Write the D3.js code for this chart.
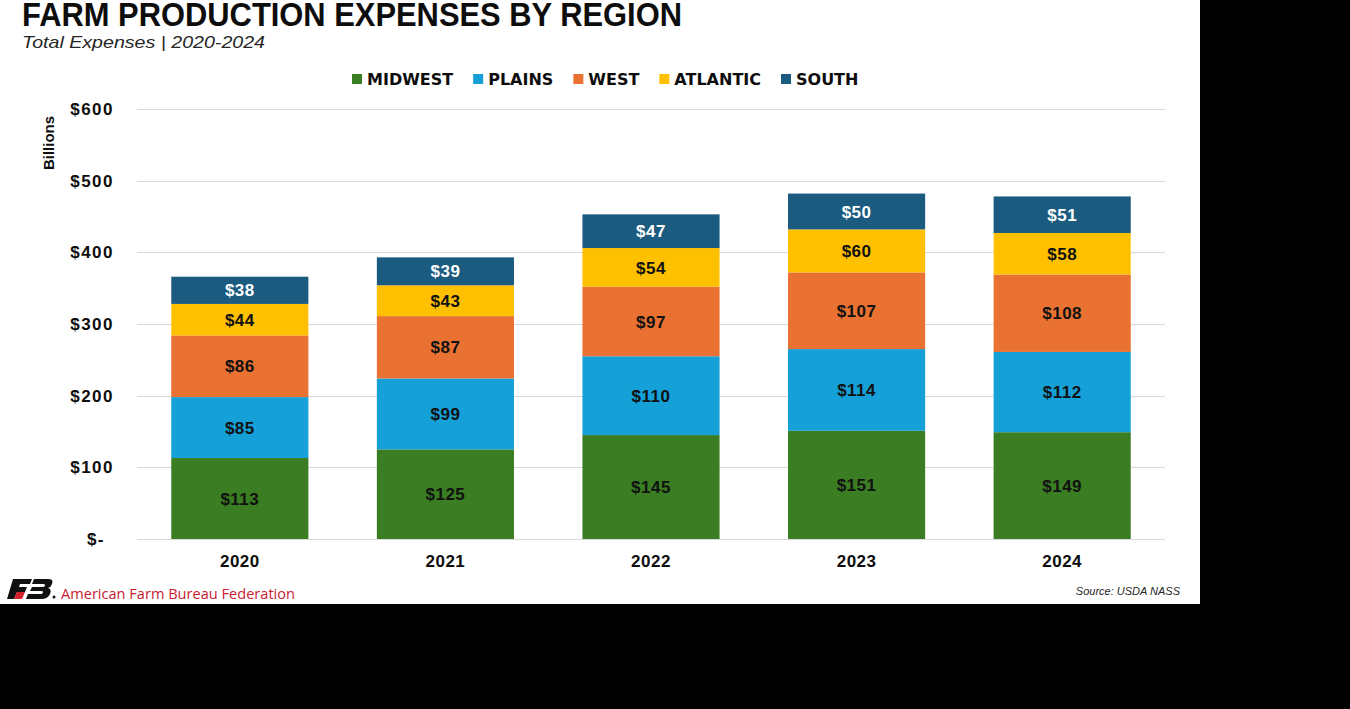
<!DOCTYPE html>
<html>
<head>
<meta charset="utf-8">
<script src="https://cdn.jsdelivr.net/npm/d3@7"></script>
<style>
  html, body { margin: 0; padding: 0; background: #000; }
  svg { display: block; }
</style>
</head>
<body>
<svg id="chart"></svg>
<script>
'use strict'

// data
var years = ['2020', '2021', '2022', '2023', '2024'];
var regions = ['MIDWEST', 'PLAINS', 'WEST', 'ATLANTIC', 'SOUTH'];
var midwest = [113, 125, 145, 151, 149];
var plains = [85, 99, 110, 114, 112];
var west = [86, 87, 97, 107, 108];
var atlantic = [44, 43, 54, 60, 58];
var south = [38, 39, 47, 50, 51];
var yTicks = [0, 100, 200, 300, 400, 500, 600];

var WIDTH = 1350,
	HEIGHT = 709,
	PANEL_W = 1200,
	PANEL_H = 604;

var colors = {
	MIDWEST: '#3a7d22',
	PLAINS: '#15a0d8',
	WEST: '#e97132',
	ATLANTIC: '#ffc000',
	SOUTH: '#1b5b80'
};
var labelColors = {
	MIDWEST: '#111',
	PLAINS: '#111',
	WEST: '#111',
	ATLANTIC: '#111',
	SOUTH: '#fff'
};

var series = [midwest, plains, west, atlantic, south];
var rows = years.map(function (y, i) {
	var r = { year: y };
	regions.forEach(function (k, j) { r[k] = series[j][i]; });
	return r;
});

var svg = d3.select('#chart')
	.attr('width', WIDTH)
	.attr('height', HEIGHT);

svg.append('rect')
	.attr('width', WIDTH)
	.attr('height', HEIGHT)
	.style('fill', '#000');

svg.append('rect')
	.attr('width', PANEL_W)
	.attr('height', PANEL_H)
	.style('fill', '#fff');

var x = d3.scaleBand()
	.domain(years)
	.range([137, 1165])
	.paddingInner(0.333)
	.paddingOuter(0.1667);

var y = d3.scaleLinear()
	.domain([0, 600])
	.range([539, 109]);

// title
svg.append('text')
	.attr('x', 22)
	.attr('y', 26)
	.attr('textLength', 660)
	.attr('lengthAdjust', 'spacingAndGlyphs')
	.style('font-family', 'Liberation Sans, Arial, sans-serif')
	.style('font-weight', 'bold')
	.style('font-size', '33px')
	.style('fill', '#0d0d0d')
	.text('FARM PRODUCTION EXPENSES BY REGION');

svg.append('text')
	.attr('x', 22)
	.attr('y', 48)
	.attr('textLength', 243)
	.attr('lengthAdjust', 'spacingAndGlyphs')
	.style('font-family', 'Liberation Sans, Arial, sans-serif')
	.style('font-style', 'italic')
	.style('font-size', '17px')
	.style('fill', '#262626')
	.text('Total Expenses | 2020-2024');

// grid
svg.append('g')
	.selectAll('line')
	.data(yTicks)
	.enter()
	.append('line')
	.attr('x1', 137)
	.attr('x2', 1165)
	.attr('y1', function (d) { return Math.round(y(d)) + 0.5; })
	.attr('y2', function (d) { return Math.round(y(d)) + 0.5; })
	.style('stroke', '#d9d9d9')
	.style('stroke-width', 1);

// y axis labels
var yAxis = d3.axisLeft(y)
	.tickValues(yTicks)
	.tickSize(0)
	.tickPadding(0)
	.tickFormat(function (d) { return d === 0 ? '$-' : '$' + d; });

var yg = svg.append('g')
	.attr('transform', 'translate(114,0)')
	.call(yAxis);
yg.select('.domain').remove();
yg.selectAll('text')
	.style('font-family', 'Liberation Sans, Arial, sans-serif')
	.style('font-weight', 'bold')
	.style('font-size', '17px')
	.style('letter-spacing', '1.5px')
	.style('fill', '#0d0d0d');
yg.selectAll('.tick')
	.filter(function (d) { return d === 0; })
	.select('text')
	.attr('x', -9);

svg.append('text')
	.attr('transform', 'translate(54,143) rotate(-90)')
	.attr('text-anchor', 'middle')
	.style('font-family', 'Liberation Sans, Arial, sans-serif')
	.style('font-weight', 'bold')
	.style('font-size', '15px')
	.style('fill', '#0d0d0d')
	.text('Billions');

// stacked bars
var stack = d3.stack().keys(regions);
var layers = stack(rows);

var groups = svg.append('g')
	.selectAll('g')
	.data(layers)
	.enter()
	.append('g')
	.style('fill', function (d) { return colors[d.key]; });

groups.selectAll('rect')
	.data(function (d) { return d; })
	.enter()
	.append('rect')
	.attr('x', function (d) { return x(d.data.year); })
	.attr('width', x.bandwidth())
	.attr('y', function (d) { return y(d[1]); })
	.attr('height', function (d) { return y(d[0]) - y(d[1]); });

groups.each(function (layer) {
	d3.select(this).selectAll('text')
		.data(layer)
		.enter()
		.append('text')
		.attr('x', function (d) { return x(d.data.year) + x.bandwidth() / 2; })
		.attr('y', function (d) { return (y(d[0]) + y(d[1])) / 2; })
		.attr('dy', '0.36em')
		.attr('text-anchor', 'middle')
		.style('font-family', 'Liberation Sans, Arial, sans-serif')
		.style('font-weight', 'bold')
		.style('font-size', '17px')
		.style('letter-spacing', '0.5px')
		.style('fill', labelColors[layer.key])
		.text(function (d) { return '$' + d.data[layer.key]; });
});

// x axis labels
var xAxis = d3.axisBottom(x).tickSize(0).tickPadding(0);
var xg = svg.append('g')
	.attr('transform', 'translate(0,555)')
	.call(xAxis);
xg.select('.domain').remove();
xg.selectAll('text')
	.attr('dy', '0.71em')
	.style('font-family', 'Liberation Sans, Arial, sans-serif')
	.style('font-weight', 'bold')
	.style('font-size', '17px')
	.style('letter-spacing', '0.5px')
	.style('fill', '#0d0d0d');

// legend
var legend = svg.append('g').attr('transform', 'translate(352,79)');
var lx = 0;
regions.forEach(function (k) {
	var item = legend.append('g').attr('transform', 'translate(' + lx + ',0)');
	item.append('rect')
		.attr('x', 0)
		.attr('y', -5)
		.attr('width', 10)
		.attr('height', 10)
		.style('fill', colors[k]);
	var t = item.append('text')
		.attr('x', 15)
		.attr('dy', '0.36em')
		.style('font-family', 'DejaVu Sans, sans-serif')
		.style('font-weight', 'bold')
		.style('font-size', '16px')
		.style('fill', '#0d0d0d')
		.text(k);
	lx += 15 + t.node().getComputedTextLength() + 20;
});

// footer
var logo = svg.append('g').attr('transform', 'translate(8,579)');
logo.append('path')
	.attr('d', 'M5,0 L24,0 L22,5 L12,5 L11,8 L19,8 L17,13 L9,13 L6,20 L-1,20 Z')
	.style('fill', '#111');
logo.append('path')
	.attr('d', 'M9,13 L17,13 L14,20 L6,20 Z')
	.style('fill', '#d6202b');
logo.append('path')
	.attr('d', 'M26,0 L40,0 Q46,0 44,5 Q43,8 40,9 Q44,10 42,15 Q40,20 33,20 L18,20 L20,15 L32,15 Q35,15 35,13 Q35,12 33,12 L22,12 L24,8 L34,8 Q37,8 37,6 Q37,5 35,5 L24,5 Z')
	.style('fill', '#111');
logo.append('circle')
	.attr('cx', 46)
	.attr('cy', 18)
	.attr('r', 1.5)
	.style('fill', '#111');

svg.append('text')
	.attr('x', 61)
	.attr('y', 599)
	.attr('textLength', 234)
	.attr('lengthAdjust', 'spacingAndGlyphs')
	.style('font-family', 'Open Sans, sans-serif')
	.style('font-size', '14px')
	.style('fill', '#c8202f')
	.text('American Farm Bureau Federation');

svg.append('text')
	.attr('x', 1180)
	.attr('y', 595)
	.attr('text-anchor', 'end')
	.style('font-family', 'Liberation Sans, Arial, sans-serif')
	.style('font-style', 'italic')
	.style('font-size', '11px')
	.style('fill', '#262626')
	.text('Source: USDA NASS');
</script>
</body>
</html>
